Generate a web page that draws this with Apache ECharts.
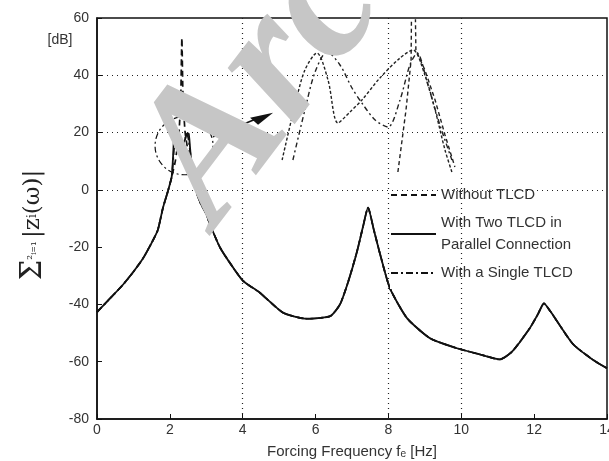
<!DOCTYPE html>
<html>
<head>
<meta charset="utf-8">
<script src="https://cdn.jsdelivr.net/npm/echarts@6/dist/echarts.min.js"></script>
<style>
html,body{margin:0;padding:0;background:#fff;}
#chart{width:609px;height:461px;}
</style>
</head>
<body>
<div id="chart"></div>
<script>
// ---- Shared response (all three configurations coincide away from the first mode) ----
const freqLeft  = [0, 0.35, 0.7, 1.0, 1.26, 1.5, 1.67, 1.81, 1.95, 2.05];
const dbLeft    = [-42.7, -38, -33.3, -28.6, -24, -18.5, -14, -6.3, -0.3, 4.5];
const freqRight = [2.65, 2.75, 2.85, 3.0, 3.1, 3.38, 3.74, 4.02, 4.47, 5.11, 5.76, 6.4, 6.67, 6.9, 7.14, 7.3, 7.44, 7.6, 7.77, 8.04, 8.51, 9.14, 9.88, 10.5, 11.06, 11.4, 11.88, 12.1, 12.27, 12.45, 12.63, 13.07, 13.6, 14];
const dbRight   = [5.5, -1.5, -4.8, -8.4, -12, -20.2, -27.2, -31.9, -35.9, -42.9, -45, -44.1, -40, -31.9, -21.4, -13, -6.2, -14, -22.4, -34.3, -44.8, -51.8, -55.3, -57.4, -59.2, -56.4, -48.3, -43.5, -39.6, -42.5, -45.9, -53.9, -59.2, -62.3];

// ---- First-mode peak region, per configuration ----
const freqPeakWithout = [2.15, 2.25, 2.3, 2.33, 2.36, 2.42, 2.55];
const dbPeakWithout   = [10, 20, 33, 53, 33, 20, 10];
const freqPeakTwo     = [2.09, 2.12, 2.16, 2.2, 2.3, 2.4, 2.48, 2.52, 2.58];
const dbPeakTwo       = [12, 19.5, 19.7, 17, 15.5, 17, 19.7, 19.5, 11];
const freqPeakSingle  = [2.1, 2.14, 2.19, 2.26, 2.33, 2.42, 2.47, 2.52, 2.58];
const dbPeakSingle    = [12, 18.5, 19.6, 16.5, 16, 18, 19.6, 17, 11];

// ---- Magnified inset of the peak region ----
const insetFreqTwo    = [2.007, 2.05, 2.083, 2.123, 2.16, 2.193, 2.233, 2.273, 2.333, 2.4, 2.443, 2.483, 2.517, 2.55, 2.573];
const insetDbTwo      = [14.35, 17.1, 18.85, 19.7, 18.35, 16.2, 16.75, 17.35, 18.45, 19.45, 19.85, 18.6, 16.85, 14.85, 13.75];
const insetFreqSingle = [2.043, 2.083, 2.117, 2.157, 2.2, 2.24, 2.273, 2.317, 2.36, 2.4, 2.433, 2.457, 2.493, 2.533, 2.573];
const insetDbSingle   = [14.35, 16.85, 18.75, 19.75, 19.1, 17.95, 17.2, 16.35, 16.0, 17.35, 19.1, 19.7, 18.1, 16.1, 14.35];
const insetFreqWithout= [2.393, 2.42, 2.437, 2.443, 2.453, 2.483, 2.517, 2.55, 2.583];
const insetDbWithout  = [13.75, 16.85, 19.35, 30, 19.85, 18.85, 17.35, 15.6, 14.0];

// ---- Axes / grid ----
const xTicks = [0, 2, 4, 6, 8, 10, 12, 14];
const yTicks = [-80, -60, -40, -20, 0, 20, 40, 60];
const gridFreqs = [4, 8, 10];
const gridDbs = [0, 20, 40];
const lensCenter = [2.39, 15.4];

const names = ['Without TLCD', 'With Two TLCD in\nParallel Connection', 'With a Single TLCD'];

function pairs(f, d) { return f.map((v, i) => [v, d[i]]); }
function fullCurve(pf, pd) {
  return pairs(freqLeft, dbLeft).concat(pairs(pf, pd), pairs(freqRight, dbRight));
}

const FONT = 'Liberation Sans, Arial, sans-serif';
const chart = echarts.init(document.getElementById('chart'), null, {renderer: 'canvas'});

const gridMarks = {
  silent: true, symbol: 'none', label: {show: false},
  lineStyle: {type: [1, 4], color: '#222', width: 1.2},
  data: gridDbs.map(v => ({yAxis: v})).concat(gridFreqs.map(v => ({xAxis: v})))
};

const option = {
  backgroundColor: '#fff',
  animation: false,
  color: ['#111', '#111', '#111', '#222', '#222', '#222'],
  grid: [
    {left: 97, right: 2, top: 18, bottom: 42, show: true, borderColor: '#111', borderWidth: 1.5,
     backgroundColor: 'transparent', outerBoundsMode: 'none', containLabel: false},
    {left: 262, top: 20, width: 213, height: 158, show: true, borderWidth: 0, backgroundColor: '#fff', z: 3,
     outerBoundsMode: 'none', containLabel: false}
  ],
  xAxis: [
    {type: 'value', gridIndex: 0, min: 0, max: 14, interval: 2,
     axisLine: {onZero: false, lineStyle: {color: '#111', width: 1.5}},
     axisTick: {inside: true, length: 5, lineStyle: {color: '#111'}},
     axisLabel: {margin: 4, fontSize: 14, color: '#333', fontFamily: FONT,
       formatter: v => xTicks.includes(v) ? String(v) : ''},
     splitLine: {show: false},
     name: 'Forcing Frequency f\u2091 [Hz]', nameLocation: 'middle', nameGap: 25,
     nameTextStyle: {fontSize: 15, color: '#333', fontFamily: FONT}},
    {type: 'value', gridIndex: 1, min: 1.94, max: 2.65, show: false}
  ],
  yAxis: [
    {type: 'value', gridIndex: 0, min: -80, max: 60, interval: 20,
     axisLine: {onZero: false, lineStyle: {color: '#111', width: 1.5}},
     axisTick: {inside: true, length: 5, lineStyle: {color: '#111'}},
     axisLabel: {margin: 8, fontSize: 14, color: '#333', fontFamily: FONT,
       formatter: v => yTicks.includes(v) ? String(v) : ''},
     splitLine: {show: false}},
    {type: 'value', gridIndex: 1, min: 13.45, max: 21.35, show: false}
  ],
  legend: {
    orient: 'vertical', left: 390, top: 179, itemWidth: 45, itemHeight: 12, itemGap: 6,
    backgroundColor: '#fff', padding: [5, 8, 5, 0],
    itemStyle: {opacity: 0},
    textStyle: {fontSize: 15, color: '#333', fontFamily: FONT, lineHeight: 22},
    data: names
  },
  series: [
    {name: names[0], type: 'line', data: fullCurve(freqPeakWithout, dbPeakWithout), symbol: 'none', z: 2, smooth: 0.2,
     lineStyle: {color: '#111', width: 1.7, type: [6, 4]}, markLine: gridMarks},
    {name: names[2], type: 'line', data: fullCurve(freqPeakSingle, dbPeakSingle), symbol: 'none', z: 2, smooth: 0.2,
     lineStyle: {color: '#111', width: 1.7, type: [7, 3, 2, 3]}},
    {name: names[1], type: 'line', data: fullCurve(freqPeakTwo, dbPeakTwo), symbol: 'none', z: 2, smooth: 0.2,
     lineStyle: {color: '#111', width: 1.8, type: 'solid'}},
    {name: 'inset without', type: 'line', xAxisIndex: 1, yAxisIndex: 1, data: pairs(insetFreqWithout, insetDbWithout),
     symbol: 'none', z: 5, clip: true, lineStyle: {color: '#222', width: 1.4, type: [4, 3]}},
    {name: 'inset single', type: 'line', xAxisIndex: 1, yAxisIndex: 1, data: pairs(insetFreqSingle, insetDbSingle),
     symbol: 'none', z: 5, clip: true, smooth: 0.3, lineStyle: {color: '#222', width: 1.4, type: [5, 3, 2, 3]}},
    {name: 'inset two', type: 'line', xAxisIndex: 1, yAxisIndex: 1, data: pairs(insetFreqTwo, insetDbTwo),
     symbol: 'none', z: 5, clip: true, smooth: 0.3, lineStyle: {color: '#222', width: 1.4, type: [3, 2]}}
  ]
};
chart.setOption(option);

const c = chart.convertToPixel({gridIndex: 0}, lensCenter);
chart.setOption({
  graphic: [
    {type: 'circle', shape: {cx: c[0], cy: c[1], r: 29}, z: 6, silent: true,
     style: {fill: 'none', stroke: '#111', lineWidth: 1.2, lineDash: [6, 3, 2, 3]}},
    {type: 'line', shape: {x1: c[0] + 29, y1: c[1] - 9, x2: c[0] + 70, y2: c[1] - 26}, z: 6, silent: true,
     style: {stroke: '#111', lineWidth: 1.5}},
    {type: 'polygon', shape: {points: [[c[0] + 66, c[1] - 28], [c[0] + 89, c[1] - 33], [c[0] + 74, c[1] - 21]]}, z: 6, silent: true,
     style: {fill: '#111'}},
    {type: 'text', x: 60, y: 40, z: 6, silent: true,
     style: {text: '[dB]', fontSize: 14, fill: '#333', fontFamily: FONT, align: 'center', verticalAlign: 'middle'}},
    {type: 'text', x: 33, y: 225, rotation: Math.PI / 2, z: 6, silent: true,
     style: {text: '{b|\u03A3}{s|\u00B2\u1D62\u208C\u2081} {n||z}{s|i}{n|(\u03C9)|}', align: 'center', verticalAlign: 'middle',
       rich: {b: {fontSize: 29, fill: '#222', fontFamily: 'DejaVu Serif'},
              s: {fontSize: 12, fill: '#222', fontFamily: 'DejaVu Serif'},
              n: {fontSize: 23, fill: '#222', fontFamily: 'DejaVu Serif'}}}},
    {type: 'text', x: 252, y: 256, rotation: 0.92, z: 10, silent: true,
     style: {text: 'Archive', fontSize: 190, fontFamily: 'Liberation Serif', fontWeight: 'bold', fontStyle: 'italic',
       fill: '#c6c6c6', align: 'left', verticalAlign: 'bottom'}}
  ]
});
</script>
</body>
</html>
